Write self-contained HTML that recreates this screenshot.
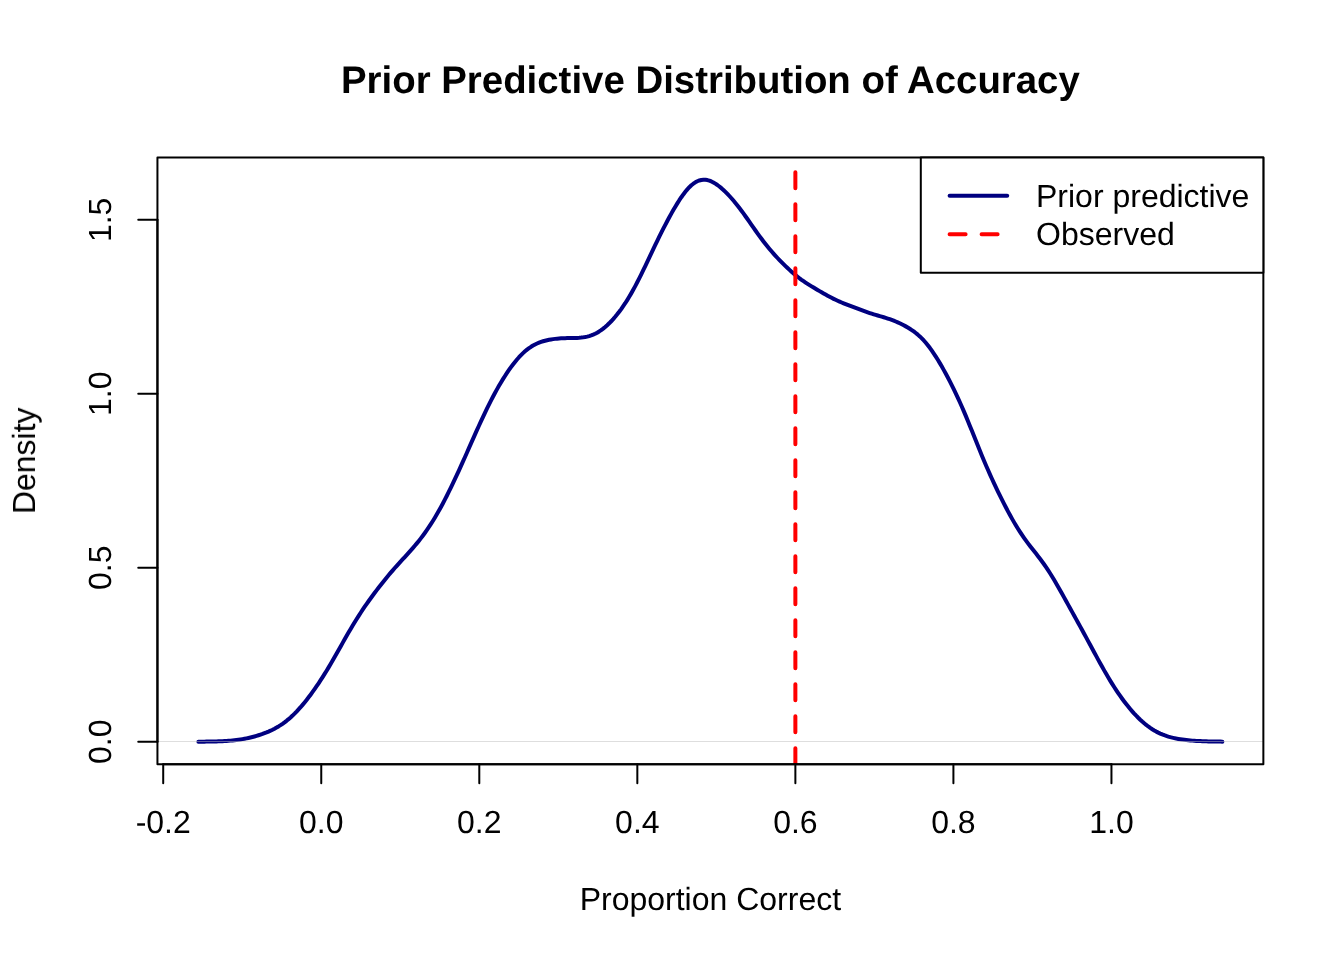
<!DOCTYPE html>
<html><head><meta charset="utf-8"><title>Prior Predictive Distribution of Accuracy</title>
<style>html,body{margin:0;padding:0;background:#fff;}svg{display:block;} text{-webkit-font-smoothing:antialiased;text-rendering:geometricPrecision;} .t{will-change:transform;}</style></head>
<body><svg width="1344" height="960" viewBox="0 0 1344 960">
<rect x="0" y="0" width="1344" height="960" fill="#ffffff"/>
<path d="M198.37,741.67 L200.38,741.66 L202.38,741.64 L204.39,741.63 L206.39,741.61 L208.39,741.58 L210.40,741.55 L212.40,741.52 L214.41,741.47 L216.41,741.41 L218.41,741.35 L220.42,741.27 L222.42,741.18 L224.43,741.07 L226.43,740.94 L228.43,740.80 L230.44,740.63 L232.44,740.44 L234.45,740.23 L236.45,739.99 L238.45,739.72 L240.46,739.43 L242.46,739.10 L244.46,738.74 L246.47,738.35 L248.47,737.93 L250.48,737.47 L252.48,736.98 L254.48,736.45 L256.49,735.88 L258.49,735.28 L260.50,734.63 L262.50,733.94 L264.50,733.20 L266.51,732.42 L268.51,731.58 L270.52,730.68 L272.52,729.72 L274.52,728.69 L276.53,727.59 L278.53,726.41 L280.54,725.15 L282.54,723.79 L284.54,722.34 L286.55,720.80 L288.55,719.15 L290.56,717.41 L292.56,715.56 L294.56,713.61 L296.57,711.56 L298.57,709.42 L300.58,707.18 L302.58,704.84 L304.58,702.42 L306.59,699.92 L308.59,697.33 L310.60,694.67 L312.60,691.93 L314.60,689.11 L316.61,686.22 L318.61,683.26 L320.62,680.22 L322.62,677.12 L324.62,673.93 L326.63,670.68 L328.63,667.37 L330.63,663.99 L332.64,660.56 L334.64,657.07 L336.65,653.55 L338.65,650.01 L340.65,646.44 L342.66,642.88 L344.66,639.33 L346.67,635.81 L348.67,632.33 L350.67,628.90 L352.68,625.52 L354.68,622.21 L356.69,618.98 L358.69,615.81 L360.69,612.72 L362.70,609.70 L364.70,606.74 L366.71,603.84 L368.71,601.01 L370.71,598.22 L372.72,595.48 L374.72,592.78 L376.73,590.12 L378.73,587.51 L380.73,584.93 L382.74,582.39 L384.74,579.89 L386.75,577.43 L388.75,575.02 L390.75,572.65 L392.76,570.33 L394.76,568.05 L396.77,565.80 L398.77,563.58 L400.77,561.39 L402.78,559.21 L404.78,557.03 L406.79,554.85 L408.79,552.65 L410.79,550.41 L412.80,548.13 L414.80,545.80 L416.80,543.40 L418.81,540.93 L420.81,538.37 L422.82,535.72 L424.82,532.98 L426.82,530.13 L428.83,527.18 L430.83,524.12 L432.84,520.95 L434.84,517.67 L436.84,514.27 L438.85,510.77 L440.85,507.16 L442.86,503.45 L444.86,499.63 L446.86,495.72 L448.87,491.71 L450.87,487.62 L452.88,483.45 L454.88,479.21 L456.88,474.91 L458.89,470.54 L460.89,466.13 L462.90,461.68 L464.90,457.20 L466.90,452.70 L468.91,448.18 L470.91,443.66 L472.92,439.14 L474.92,434.64 L476.92,430.18 L478.93,425.75 L480.93,421.37 L482.94,417.06 L484.94,412.82 L486.94,408.67 L488.95,404.60 L490.95,400.64 L492.96,396.78 L494.96,393.02 L496.96,389.38 L498.97,385.85 L500.97,382.44 L502.97,379.14 L504.98,375.96 L506.98,372.90 L508.99,369.96 L510.99,367.15 L512.99,364.46 L515.00,361.91 L517.00,359.49 L519.01,357.22 L521.01,355.10 L523.01,353.13 L525.02,351.31 L527.02,349.65 L529.03,348.14 L531.03,346.78 L533.03,345.56 L535.04,344.47 L537.04,343.51 L539.05,342.66 L541.05,341.92 L543.05,341.27 L545.06,340.71 L547.06,340.22 L549.07,339.80 L551.07,339.44 L553.07,339.13 L555.08,338.87 L557.08,338.65 L559.09,338.48 L561.09,338.34 L563.09,338.24 L565.10,338.17 L567.10,338.12 L569.11,338.08 L571.11,338.05 L573.11,338.02 L575.12,337.97 L577.12,337.90 L579.13,337.78 L581.13,337.61 L583.13,337.37 L585.14,337.04 L587.14,336.61 L589.14,336.08 L591.15,335.43 L593.15,334.64 L595.16,333.73 L597.16,332.67 L599.16,331.46 L601.17,330.12 L603.17,328.63 L605.18,326.99 L607.18,325.22 L609.18,323.32 L611.19,321.27 L613.19,319.10 L615.20,316.79 L617.20,314.35 L619.20,311.78 L621.21,309.07 L623.21,306.22 L625.22,303.23 L627.22,300.09 L629.22,296.81 L631.23,293.38 L633.23,289.81 L635.24,286.11 L637.24,282.28 L639.24,278.34 L641.25,274.30 L643.25,270.18 L645.26,266.01 L647.26,261.79 L649.26,257.55 L651.27,253.32 L653.27,249.10 L655.28,244.91 L657.28,240.76 L659.28,236.67 L661.29,232.64 L663.29,228.68 L665.30,224.80 L667.30,220.99 L669.30,217.27 L671.31,213.64 L673.31,210.11 L675.31,206.69 L677.32,203.39 L679.32,200.23 L681.33,197.24 L683.33,194.42 L685.33,191.80 L687.34,189.40 L689.34,187.23 L691.35,185.32 L693.35,183.68 L695.35,182.32 L697.36,181.24 L699.36,180.45 L701.37,179.95 L703.37,179.74 L705.37,179.79 L707.38,180.10 L709.38,180.66 L711.39,181.44 L713.39,182.44 L715.39,183.62 L717.40,184.98 L719.40,186.50 L721.41,188.16 L723.41,189.95 L725.41,191.86 L727.42,193.88 L729.42,196.00 L731.43,198.23 L733.43,200.55 L735.43,202.96 L737.44,205.46 L739.44,208.04 L741.45,210.70 L743.45,213.42 L745.45,216.21 L747.46,219.03 L749.46,221.89 L751.47,224.77 L753.47,227.64 L755.47,230.50 L757.48,233.32 L759.48,236.10 L761.48,238.81 L763.49,241.46 L765.49,244.04 L767.50,246.54 L769.50,248.97 L771.50,251.32 L773.51,253.60 L775.51,255.83 L777.52,257.99 L779.52,260.10 L781.52,262.16 L783.53,264.17 L785.53,266.14 L787.54,268.05 L789.54,269.91 L791.54,271.71 L793.55,273.46 L795.55,275.13 L797.56,276.74 L799.56,278.29 L801.56,279.77 L803.57,281.18 L805.57,282.54 L807.58,283.85 L809.58,285.12 L811.58,286.36 L813.59,287.58 L815.59,288.78 L817.60,289.97 L819.60,291.14 L821.60,292.31 L823.61,293.46 L825.61,294.60 L827.62,295.71 L829.62,296.79 L831.62,297.84 L833.63,298.85 L835.63,299.82 L837.64,300.75 L839.64,301.63 L841.64,302.48 L843.65,303.30 L845.65,304.10 L847.65,304.88 L849.66,305.65 L851.66,306.41 L853.67,307.18 L855.67,307.94 L857.67,308.70 L859.68,309.46 L861.68,310.21 L863.69,310.95 L865.69,311.67 L867.69,312.37 L869.70,313.04 L871.70,313.69 L873.71,314.32 L875.71,314.92 L877.71,315.51 L879.72,316.09 L881.72,316.67 L883.73,317.27 L885.73,317.88 L887.73,318.53 L889.74,319.21 L891.74,319.93 L893.75,320.70 L895.75,321.52 L897.75,322.39 L899.76,323.30 L901.76,324.27 L903.77,325.29 L905.77,326.38 L907.77,327.52 L909.78,328.74 L911.78,330.05 L913.79,331.46 L915.79,332.98 L917.79,334.63 L919.80,336.42 L921.80,338.36 L923.81,340.47 L925.81,342.75 L927.81,345.19 L929.82,347.81 L931.82,350.59 L933.82,353.52 L935.83,356.60 L937.83,359.81 L939.84,363.14 L941.84,366.59 L943.84,370.14 L945.85,373.79 L947.85,377.54 L949.86,381.38 L951.86,385.33 L953.86,389.39 L955.87,393.56 L957.87,397.84 L959.88,402.24 L961.88,406.77 L963.88,411.41 L965.89,416.15 L967.89,420.98 L969.90,425.89 L971.90,430.85 L973.90,435.85 L975.91,440.85 L977.91,445.83 L979.92,450.77 L981.92,455.66 L983.92,460.47 L985.93,465.19 L987.93,469.81 L989.94,474.35 L991.94,478.78 L993.94,483.13 L995.95,487.39 L997.95,491.56 L999.96,495.66 L1001.96,499.69 L1003.96,503.64 L1005.97,507.51 L1007.97,511.31 L1009.98,515.02 L1011.98,518.63 L1013.98,522.13 L1015.99,525.52 L1017.99,528.79 L1019.99,531.93 L1022.00,534.94 L1024.00,537.84 L1026.01,540.63 L1028.01,543.32 L1030.01,545.94 L1032.02,548.51 L1034.02,551.05 L1036.03,553.59 L1038.03,556.16 L1040.03,558.79 L1042.04,561.49 L1044.04,564.28 L1046.05,567.17 L1048.05,570.17 L1050.05,573.27 L1052.06,576.49 L1054.06,579.80 L1056.07,583.20 L1058.07,586.67 L1060.07,590.19 L1062.08,593.76 L1064.08,597.36 L1066.09,600.98 L1068.09,604.61 L1070.09,608.24 L1072.10,611.87 L1074.10,615.50 L1076.11,619.13 L1078.11,622.77 L1080.11,626.41 L1082.12,630.06 L1084.12,633.73 L1086.13,637.41 L1088.13,641.10 L1090.13,644.81 L1092.14,648.52 L1094.14,652.22 L1096.15,655.92 L1098.15,659.59 L1100.15,663.24 L1102.16,666.84 L1104.16,670.39 L1106.16,673.87 L1108.17,677.28 L1110.17,680.62 L1112.18,683.87 L1114.18,687.03 L1116.18,690.10 L1118.19,693.08 L1120.19,695.96 L1122.20,698.76 L1124.20,701.46 L1126.20,704.06 L1128.21,706.58 L1130.21,709.00 L1132.22,711.33 L1134.22,713.57 L1136.22,715.71 L1138.23,717.76 L1140.23,719.71 L1142.24,721.55 L1144.24,723.29 L1146.24,724.94 L1148.25,726.47 L1150.25,727.91 L1152.26,729.24 L1154.26,730.47 L1156.26,731.60 L1158.27,732.64 L1160.27,733.58 L1162.28,734.44 L1164.28,735.23 L1166.28,735.93 L1168.29,736.57 L1170.29,737.14 L1172.30,737.66 L1174.30,738.12 L1176.30,738.54 L1178.31,738.91 L1180.31,739.24 L1182.32,739.54 L1184.32,739.81 L1186.32,740.04 L1188.33,740.26 L1190.33,740.45 L1192.33,740.62 L1194.34,740.76 L1196.34,740.90 L1198.35,741.01 L1200.35,741.12 L1202.35,741.21 L1204.36,741.28 L1206.36,741.35 L1208.37,741.41 L1210.37,741.46 L1212.37,741.50 L1214.38,741.54 L1216.38,741.57 L1218.39,741.59 L1220.39,741.62 L1222.39,741.63" fill="none" stroke="#000080" stroke-width="4" stroke-linecap="round" stroke-linejoin="round"/>
<line x1="157.44" y1="741.5" x2="1263.36" y2="741.5" stroke="#bebebe" stroke-opacity="0.5" stroke-width="1"/>
<clipPath id="pc"><rect x="157.44" y="157.44" width="1105.92" height="606.72"/></clipPath>
<line x1="795.37" y1="764.16" x2="795.37" y2="157.44" stroke="#ff0000" stroke-width="4" stroke-dasharray="16 16" stroke-linecap="round" clip-path="url(#pc)"/>
<rect x="157.44" y="157.44" width="1105.92" height="606.72" fill="none" stroke="#000" stroke-width="2" stroke-linejoin="round"/>
<line x1="163.21" y1="764.16" x2="1111.45" y2="764.16" stroke="#000" stroke-width="2" stroke-linecap="round"/>
<line x1="163.21" y1="764.16" x2="163.21" y2="783.36" stroke="#000" stroke-width="2" stroke-linecap="round"/>
<line x1="321.25" y1="764.16" x2="321.25" y2="783.36" stroke="#000" stroke-width="2" stroke-linecap="round"/>
<line x1="479.29" y1="764.16" x2="479.29" y2="783.36" stroke="#000" stroke-width="2" stroke-linecap="round"/>
<line x1="637.33" y1="764.16" x2="637.33" y2="783.36" stroke="#000" stroke-width="2" stroke-linecap="round"/>
<line x1="795.37" y1="764.16" x2="795.37" y2="783.36" stroke="#000" stroke-width="2" stroke-linecap="round"/>
<line x1="953.41" y1="764.16" x2="953.41" y2="783.36" stroke="#000" stroke-width="2" stroke-linecap="round"/>
<line x1="1111.45" y1="764.16" x2="1111.45" y2="783.36" stroke="#000" stroke-width="2" stroke-linecap="round"/>
<line x1="157.44" y1="741.70" x2="157.44" y2="219.85" stroke="#000" stroke-width="2" stroke-linecap="round"/>
<line x1="157.44" y1="741.70" x2="138.24" y2="741.70" stroke="#000" stroke-width="2" stroke-linecap="round"/>
<line x1="157.44" y1="567.75" x2="138.24" y2="567.75" stroke="#000" stroke-width="2" stroke-linecap="round"/>
<line x1="157.44" y1="393.80" x2="138.24" y2="393.80" stroke="#000" stroke-width="2" stroke-linecap="round"/>
<line x1="157.44" y1="219.85" x2="138.24" y2="219.85" stroke="#000" stroke-width="2" stroke-linecap="round"/>
<rect x="920.8" y="157.44" width="342.56" height="115.2" fill="#fff" stroke="#000" stroke-width="2" stroke-linejoin="round"/>
<line x1="949.6" y1="195.84" x2="1007.2" y2="195.84" stroke="#000080" stroke-width="4" stroke-linecap="round"/>
<line x1="949.6" y1="234.24" x2="1007.2" y2="234.24" stroke="#ff0000" stroke-width="4" stroke-dasharray="16 16" stroke-linecap="round"/>
<g opacity="0.999">
<text x="163.21" y="832.9" text-anchor="middle" font-size="32" font-family='"Liberation Sans", sans-serif'>-0.2</text>
<text x="321.25" y="832.9" text-anchor="middle" font-size="32" font-family='"Liberation Sans", sans-serif'>0.0</text>
<text x="479.29" y="832.9" text-anchor="middle" font-size="32" font-family='"Liberation Sans", sans-serif'>0.2</text>
<text x="637.33" y="832.9" text-anchor="middle" font-size="32" font-family='"Liberation Sans", sans-serif'>0.4</text>
<text x="795.37" y="832.9" text-anchor="middle" font-size="32" font-family='"Liberation Sans", sans-serif'>0.6</text>
<text x="953.41" y="832.9" text-anchor="middle" font-size="32" font-family='"Liberation Sans", sans-serif'>0.8</text>
<text x="1111.45" y="832.9" text-anchor="middle" font-size="32" font-family='"Liberation Sans", sans-serif'>1.0</text>
<text transform="translate(111,741.70) rotate(-90)" text-anchor="middle" font-size="32" font-family='"Liberation Sans", sans-serif'>0.0</text>
<text transform="translate(111,567.75) rotate(-90)" text-anchor="middle" font-size="32" font-family='"Liberation Sans", sans-serif'>0.5</text>
<text transform="translate(111,393.80) rotate(-90)" text-anchor="middle" font-size="32" font-family='"Liberation Sans", sans-serif'>1.0</text>
<text transform="translate(111,219.85) rotate(-90)" text-anchor="middle" font-size="32" font-family='"Liberation Sans", sans-serif'>1.5</text>
<text x="710.4" y="909.6" text-anchor="middle" font-size="32" font-family='"Liberation Sans", sans-serif'>Proportion Correct</text>
<text transform="translate(35,460.8) rotate(-90)" text-anchor="middle" font-size="32" font-family='"Liberation Sans", sans-serif'>Density</text>
<text x="710.4" y="93.2" text-anchor="middle" font-size="38.4" font-weight="bold" font-family='"Liberation Sans", sans-serif'>Prior Predictive Distribution of Accuracy</text>
<text x="1036.0" y="206.8" font-size="32" font-family='"Liberation Sans", sans-serif'>Prior predictive</text>
<text x="1036.0" y="245.4" font-size="32" font-family='"Liberation Sans", sans-serif'>Observed</text>
</g>
</svg></body></html>
